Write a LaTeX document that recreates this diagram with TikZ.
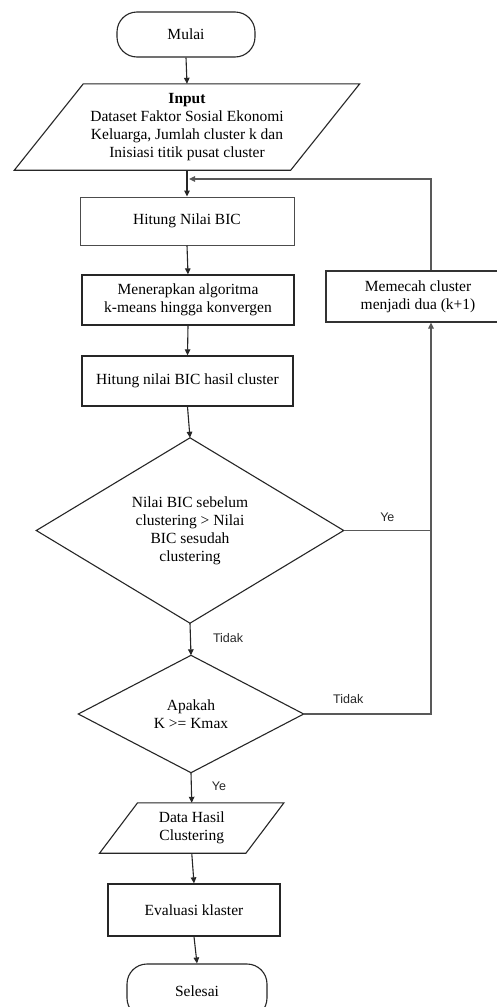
\documentclass[tikz,border=0pt]{standalone}
\usepackage{fontspec}
\setmainfont{Liberation Serif}
\newfontfamily\labelfont{Liberation Sans}
\usetikzlibrary{arrows.meta}
\begin{document}
\begin{tikzpicture}[x=1pt,y=-1pt,
  txt/.style={font=\fontsize{15.5}{18}\selectfont, align=center, inner sep=0pt},
  boxnode/.style={txt, draw=black!85, line width=1.3pt, rectangle},
  term/.style={txt, draw=black!85, line width=1.1pt, rectangle, rounded corners=20pt},
  ghost/.style={txt, draw=none, rectangle},
  shapeline/.style={draw=black!85, line width=1.1pt},
  conn/.style={draw=black!85, line width=1.1pt},
  loopline/.style={draw=black!65, line width=1.1pt},
  arrow/.style={conn, -{Triangle[length=6pt,width=5.5pt]}},
  looparrow/.style={loopline, -{Triangle[length=6pt,width=5.5pt]}},
  lbl/.style={font=\labelfont\fontsize{12.5}{14}\selectfont, text=black!85, inner sep=0pt}
]
\useasboundingbox[fill=white] (0,0) rectangle (496,1007);

% nodes
\node[term, minimum width=138pt, minimum height=45pt] (mulai) at (186,34.5) {Mulai};
\node[ghost, minimum width=276pt, minimum height=86pt] (input) at (187,127) {\textbf{Input}\\Dataset Faktor Sosial Ekonomi\\Keluarga, Jumlah cluster k dan\\Inisiasi titik pusat cluster};
\draw[shapeline] ([xshift=34.5pt]input.north west) -- ([xshift=34.5pt]input.north east) -- ([xshift=-34.5pt]input.south east) -- ([xshift=-34.5pt]input.south west) -- cycle;
\node[boxnode, draw=black!70, line width=1pt, minimum width=214pt, minimum height=48pt] (bic) at (187,221) {Hitung Nilai BIC};
\node[boxnode, minimum width=212pt, minimum height=50pt] (kmeans) at (188,300) {Menerapkan algoritma\\k-means hingga konvergen};
\node[boxnode, minimum width=211pt, minimum height=50pt] (bichasil) at (187.5,381) {Hitung nilai BIC hasil cluster};
\node[ghost, minimum width=307pt, minimum height=185pt] (d1) at (190,530.5) {Nilai BIC sebelum\\clustering > Nilai\\BIC sesudah\\clustering};
\draw[shapeline] (d1.north) -- (d1.east) -- (d1.south) -- (d1.west) -- cycle;
\node[ghost, minimum width=225pt, minimum height=117pt] (d2) at (191,714) {Apakah\\K >= Kmax};
\draw[shapeline] (d2.north) -- (d2.east) -- (d2.south) -- (d2.west) -- cycle;
\node[ghost, minimum width=146pt, minimum height=50pt] (hasil) at (191.75,828) {Data Hasil\\Clustering};
\draw[shapeline] ([xshift=19pt]hasil.north west) -- ([xshift=19pt]hasil.north east) -- ([xshift=-19pt]hasil.south east) -- ([xshift=-19pt]hasil.south west) -- cycle;
\node[boxnode, minimum width=172pt, minimum height=52pt] (eval) at (194,910) {Evaluasi klaster};
\node[term, minimum width=140pt, minimum height=54pt] (selesai) at (197,991) {Selesai};
\node[boxnode, draw=black!80, line width=1.1pt, minimum width=184pt, minimum height=51pt] (pecah) at (418,296.5) {Memecah cluster\\menjadi dua (k+1)};

% helper coordinates
\coordinate (rx) at (431,0);
\coordinate (join) at (189,179);

% connectors
\draw[arrow] (mulai.south) -- (input.north);
\draw[arrow] (input.south) -- (bic.north);
\draw[arrow] (bic.south) -- (kmeans.north);
\draw[arrow] (kmeans.south) -- (bichasil.north);
\draw[arrow] (bichasil.south) -- (d1.north);
\draw[arrow] (d1.south) -- node[lbl, right=22pt, pos=0.45] (ltidak1) {Tidak} (d2.north);
\draw[arrow] (d2.south) -- node[lbl, right=20pt, pos=0.45] (lye2) {Ye} (hasil.north);
\draw[arrow] (hasil.south) -- (eval.north);
\draw[arrow] (eval.south) -- (selesai.north);

\draw[loopline] (d1.east) -- node[lbl, above=8pt, pos=0.5] (lye1) {Ye} (d1.east -| rx);
\draw[looparrow] (d2.east) -- node[lbl, above=10pt, pos=0.35] (ltidak2) {Tidak} (d2.east -| rx) -- (pecah.south -| rx);
\draw[looparrow] (pecah.north -| rx) |- (join);
\end{tikzpicture}
\end{document}
